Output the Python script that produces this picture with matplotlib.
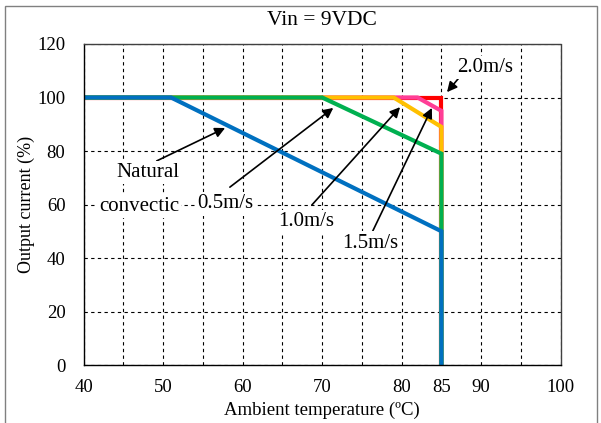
import matplotlib
matplotlib.use("Agg")
import matplotlib.pyplot as plt
from matplotlib.patches import Rectangle

plt.rcParams['font.family'] = ['Liberation Serif', 'DejaVu Serif']

# derating curves (ambient temp in C, output current in %)
nat_x = [40, 51, 85, 85]
nat_y = [100, 100, 50, 0]
v05_x = [40, 70, 85, 85]
v05_y = [100, 100, 79, 0]
v10_x = [40, 79, 85, 85]
v10_y = [100, 100, 89, 0]
v15_x = [40, 82, 85, 85]
v15_y = [100, 100, 95, 0]
v20_x = [40, 85, 85]
v20_y = [100, 100, 0]

xticks = [40, 50, 60, 70, 80, 85, 90, 100]
yticks = [0, 20, 40, 60, 80, 100, 120]

fig = plt.figure(figsize=(6.01, 4.23), dpi=100)
ax = fig.add_axes([0.139, 0.137, 0.794, 0.759])

# frame around the whole figure
fig.patches.append(Rectangle((4.5 / 601, -0.05), 592.5 / 601, 1.05 - 6 / 423,
                             transform=fig.transFigure, fill=False,
                             edgecolor='#808080', lw=1.0))

lw = 3.0
ax.plot(v20_x, v20_y, color='#FF0000', lw=lw, solid_joinstyle='miter')
ax.plot(v15_x, v15_y, color='#FF3E96', lw=lw, solid_joinstyle='miter')
ax.plot(v10_x, v10_y, color='#FFC000', lw=lw, solid_joinstyle='miter')
ax.plot(v05_x, v05_y, color='#00B050', lw=lw, solid_joinstyle='miter')
ax.plot(nat_x, nat_y, color='#0070C0', lw=lw, solid_joinstyle='miter')

ax.set_xlim(40, 100)
ax.set_ylim(0, 120)
ax.set_xticks(range(40, 101, 5))
ax.set_xticklabels([str(t) if t in xticks else '' for t in range(40, 101, 5)])
ax.set_yticks(yticks)
ax.tick_params(length=0, labelsize=13.5)
ax.tick_params(axis='x', pad=10)
ax.tick_params(axis='y', pad=13)
ax.grid(True, color='black', linestyle=(0, (3, 3)), lw=0.8)

for s in ['left', 'bottom']:
    ax.spines[s].set_linewidth(1.0)
for s in ['top', 'right']:
    ax.spines[s].set_linestyle((0, (3, 1)))
    ax.spines[s].set_color('#404040')
    ax.spines[s].set_linewidth(1.0)

ax.set_title('Vin = 9VDC', fontsize=15.5, pad=14)
ax.set_xlabel('Ambient temperature (ºC)', fontsize=13.5, labelpad=4)
ax.set_ylabel('Output current (%)', fontsize=13, labelpad=2)

arrow = dict(arrowstyle='-|>', color='black', lw=1.2, mutation_scale=15,
             shrinkA=0, shrinkB=0)
ax.annotate('', xy=(57.8, 88.6), xytext=(49.2, 76.3), arrowprops=arrow)
ax.annotate('', xy=(71.4, 96.1), xytext=(58.4, 66.5), arrowprops=arrow)
ax.annotate('', xy=(79.8, 96.4), xytext=(68.7, 59.8), arrowprops=arrow)
ax.annotate('', xy=(83.8, 96.1), xytext=(76.3, 49.7), arrowprops=arrow)
ax.annotate('', xy=(85.7, 102.0), xytext=(87.3, 107.7), arrowprops=arrow)

fs = 15
box = dict(boxstyle='square,pad=0.1', fc='white', ec='none')
ax.text(52.0, 72.1, 'Natural', fontsize=fs, ha='right', va='center', bbox=box)
ax.text(52.0, 59.4, 'convectic', fontsize=fs, ha='right', va='center', bbox=box)
ax.text(57.8, 60.2, '0.5m/s', fontsize=fs, ha='center', va='center', bbox=box)
ax.text(68.0, 53.5, '1.0m/s', fontsize=fs, ha='center', va='center', bbox=box)
ax.text(76.0, 45.6, '1.5m/s', fontsize=fs, ha='center', va='center', bbox=box)
ax.text(87.0, 111.2, '2.0m/s', fontsize=fs, ha='left', va='center', bbox=box)

fig.savefig('out.png', dpi=100)
